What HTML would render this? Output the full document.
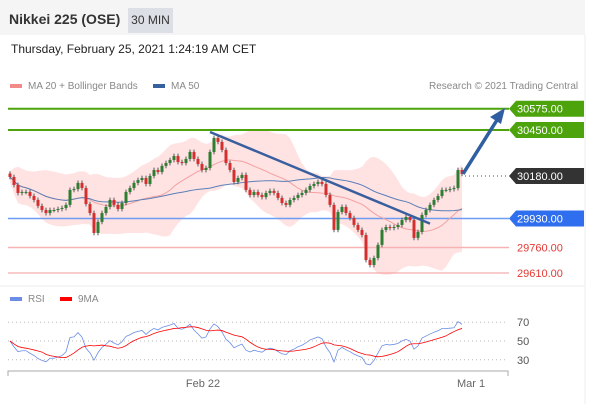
<!DOCTYPE html>
<html><head><meta charset="utf-8"><style>
body{margin:0;width:602px;height:404px;background:#fff;font-family:"Liberation Sans",sans-serif;overflow:hidden;position:relative}
.hdr{position:absolute;left:0;top:0;width:585px;height:35px;background:#f5f5f5}
.title{position:absolute;left:9px;top:11px;font-size:14px;font-weight:bold;color:#333}
.badge{position:absolute;left:128px;top:8px;width:45px;height:25px;background:#dcdfe5;font-size:12px;color:#333;line-height:25px;text-align:center}
.date{position:absolute;left:11px;top:42px;font-size:12px;color:#222}
.leg{position:absolute;top:81px;font-size:10px;color:#888}
.sw{display:inline-block;width:12px;height:4px;vertical-align:middle;margin-right:6px}
svg{position:absolute;left:0;top:0}
</style></head><body>
<div class="hdr"></div>
<div class="title">Nikkei 225 (OSE)</div>
<div class="badge">30 MIN</div>
<div class="date">Thursday, February 25, 2021 1:24:19 AM CET</div>
<div class="leg" style="left:10px"><span class="sw" style="background:#f38a8a"></span>MA 20 + Bollinger Bands</div>
<div class="leg" style="left:153px"><span class="sw" style="background:#36609e"></span>MA 50</div>
<div class="leg" style="left:429px">Research © 2021 Trading Central</div>
<div class="leg" style="left:10px;top:294px"><span class="sw" style="background:#6b8de6"></span>RSI</div>
<div class="leg" style="left:60px;top:294px"><span class="sw" style="background:#f00"></span>9MA</div>
<svg id="c" width="602" height="404"></svg>
<script>
const closes=[30174,30127,30080,30086,30086,30062,30039,30004,29980,29962,29980,29980,29986,29992,30010,30098,30103,30139,30109,30015,29962,29845,29910,29962,29998,30039,30010,29986,30021,30086,30109,30139,30156,30168,30133,30180,30215,30203,30239,30256,30274,30297,30262,30256,30280,30321,30280,30250,30215,30227,30321,30403,30380,30333,30256,30215,30145,30168,30186,30098,30068,30086,30068,30056,30080,30092,30080,30051,30021,30010,30039,30051,30068,30080,30098,30121,30133,30145,30133,30068,30010,29863,29968,29998,29962,29933,29892,29863,29833,29686,29657,29698,29775,29863,29880,29874,29880,29892,29921,29939,29921,29816,29851,29951,29980,30010,30039,30062,30098,30098,30103,30109,30215,30192];
const levels=[30575,30450,30180,29930,29760,29610];
const rsiTicks=[70,50,30];
const xLabels=["Feb 22","Mar 1"];
const xLabelIdx=[48,115];
const svg=document.getElementById('c');const NS="http://www.w3.org/2000/svg";
function el(t,a,p){const e=document.createElementNS(NS,t);for(const k in a)e.setAttribute(k,a[k]);(p||svg).appendChild(e);return e;}
const py=v=>130+(30450-v)*0.1702;
const px=i=>10+i*4;
const ry=v=>341-(v-50)*0.94;
function path(arr,f){let d="";arr.forEach((v,i)=>{if(v!=null)d+=(d?"L":"M")+px(i)+","+f(v);});return d;}
function sma(a,n){return a.map((v,i)=>{const s=a.slice(Math.max(0,i-n+1),i+1);return s.reduce((x,y)=>x+y,0)/s.length;});}
const ma20=sma(closes,20),ma50=sma(closes,50);
const sd=closes.map((v,i)=>{const s=closes.slice(Math.max(0,i-19),i+1);const m=ma20[i];return Math.sqrt(s.reduce((x,y)=>x+(y-m)*(y-m),0)/s.length)+15;});
let bd="";closes.forEach((v,i)=>{bd+=(i?"L":"M")+px(i)+","+py(ma20[i]+2*sd[i]);});
for(let i=closes.length-1;i>=0;i--)bd+="L"+px(i)+","+py(ma20[i]-2*sd[i]);
let e=el('path',{d:bd+"Z",fill:"#ffe3e3"});
const lc=["#4ca30b","#4ca30b",null,"#6d9cf3","#f7b3b3","#f29a9a"];
const lw=[2,2,0,1.6,1.5,1];
levels.forEach((v,i)=>{if(!lc[i])return;const l=el('line',{x1:8,x2:509,y1:py(v),y2:py(v),stroke:lc[i],'stroke-width':lw[i]});});
e=el('path',{d:path(ma20,py),fill:"none",stroke:"#f4a0a0","stroke-width":1});
e=el('path',{d:path(ma50,py),fill:"none",stroke:"#5a7fb8","stroke-width":1});
closes.forEach((c,i)=>{const o=i?closes[i-1]:c+20;const x=px(i);
const w=el('line',{x1:x,x2:x,y1:py(Math.max(o,c)+14),y2:py(Math.min(o,c)-14),stroke:"#555","stroke-width":1});

const top=py(Math.max(o,c)),h=Math.max(1,py(Math.min(o,c))-top);
const r=el('rect',{x:x-1.5,y:top,width:3,height:h,fill:c>=o?"#2e7d32":"#d32f2f"});
});
const n=closes.length-1;
e=el('line',{x1:px(50),y1:py(30450)+2,x2:px(105),y2:py(29900),stroke:"#3a5f9e","stroke-width":2.5});
e=el('line',{x1:px(n)+1,y1:py(closes[n]),x2:497,y2:120,stroke:"#2f5fa0","stroke-width":3.5});
e=el('polygon',{points:"505,108 490,117 501,124",fill:"#2f5fa0"});
e=el('line',{x1:px(n)+3,x2:509,y1:py(30180),y2:py(30180),stroke:"#555","stroke-dasharray":"1,3"});
const lbg=["#4ca30b","#4ca30b","#333","#2f6fef",null,null];
levels.forEach((v,i)=>{const y=py(v);
if(lbg[i]){const p=el('polygon',{points:`509,${y} 516,${y-8} 584,${y-8} 584,${y+8} 516,${y+8}`,fill:lbg[i]});}
const t=el('text',{x:517,y:y+4,'font-size':11,fill:lbg[i]?"#fff":"#e53935"});t.textContent=v.toFixed(2);
});
let ag=12,al=12;
const rsi=closes.map((v,i)=>{if(i>0){const d=v-closes[i-1];ag=(ag*13+Math.max(d,0))/14;al=(al*13+Math.max(-d,0))/14;}const r=100*ag/(ag+al);return 50+(r-50)*0.95;});
const rsiMa=sma(rsi,9);
rsiTicks.forEach(t=>{const y=ry(t);const l=el('line',{x1:8,x2:505,y1:y,y2:y,stroke:"#bbb","stroke-dasharray":"1,3"});
const tx=el('text',{x:517,y:y+4,'font-size':11,fill:"#555"});tx.textContent=t;});
e=el('path',{d:path(rsi,ry),fill:"none",stroke:"#6b8de6","stroke-width":0.8});
e=el('path',{d:path(rsiMa,ry),fill:"none",stroke:"#f00","stroke-width":0.8});
e=el('path',{d:"M8,376V371H508V376",fill:"none",stroke:"#aaa","stroke-width":1});
xLabels.forEach((s,i)=>{const t=el('text',{x:px(xLabelIdx[i])+1,y:387,'font-size':11,fill:"#666",'text-anchor':"middle"});t.textContent=s;});
e=el('line',{x1:585,x2:585,y1:35,y2:404,stroke:"#eee"});
e=el('line',{x1:0,x2:585,y1:286,y2:286,stroke:"#eee"});
</script>
</body></html>
